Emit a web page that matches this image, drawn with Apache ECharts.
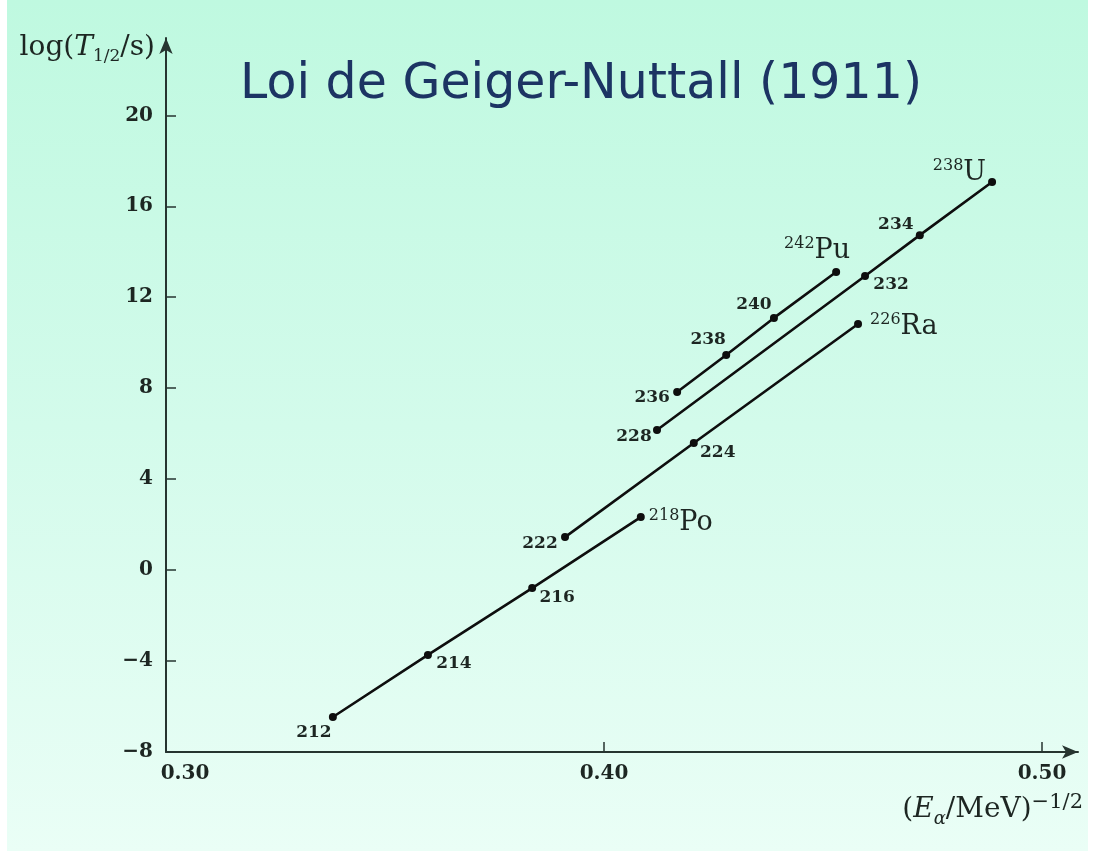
<!DOCTYPE html>
<html>
<head>
<meta charset="utf-8">
<title>Loi de Geiger-Nuttall (1911)</title>
<script src="https://cdn.jsdelivr.net/npm/echarts@6/dist/echarts.min.js"></script>
<style>
  html, body { margin: 0; padding: 0; background: #ffffff; }
  #chart { width: 1095px; height: 851px; }
</style>
</head>
<body>
<div id="chart"></div>
<script>
// Decay chains: x = (E_alpha / MeV)^(-1/2), y = log10(T_1/2 / s)
const poMass = [212, 214, 216, 218];
const poX = [0.3381, 0.3598, 0.3836, 0.4084];
const poY = [-6.46, -3.73, -0.79, 2.33];

const raMass = [222, 224, 226];
const raX = [0.3911, 0.4205, 0.4580];
const raY = [1.45, 5.59, 10.82];

const uMass = [228, 232, 234, 238];
const uX = [0.4121, 0.4596, 0.4721, 0.4886];
const uY = [6.16, 12.93, 14.73, 17.07];

const puMass = [236, 238, 240, 242];
const puX = [0.4167, 0.4279, 0.4388, 0.4530];
const puY = [7.83, 9.46, 11.09, 13.11];

const xTicks = [0.30, 0.40, 0.50];
const yTicks = [-8, -4, 0, 4, 8, 12, 16, 20];

const chains = [
  { element: 'Po', mass: poMass, x: poX, y: poY },
  { element: 'Ra', mass: raMass, x: raX, y: raY },
  { element: 'U',  mass: uMass,  x: uX,  y: uY  },
  { element: 'Pu', mass: puMass, x: puX, y: puY }
];

// Where each mass-number label sits relative to its dot (pixels)
const labelPlacement = {
  'Po-212': { dx: -19, dy: 16 },
  'Po-214': { dx: 26, dy: 9 },
  'Po-216': { dx: 25, dy: 10 },
  'Po-218': { dx: 8, dy: 6, align: 'left' },
  'Ra-222': { dx: -25, dy: 6 },
  'Ra-224': { dx: 24, dy: 10 },
  'Ra-226': { dx: 12, dy: 3, align: 'left' },
  'U-228':  { dx: -23, dy: 7 },
  'U-232':  { dx: 26, dy: 9 },
  'U-234':  { dx: -24, dy: -11 },
  'U-238':  { dx: -6, dy: -9, align: 'right' },
  'Pu-236': { dx: -25, dy: 6 },
  'Pu-238': { dx: -18, dy: -15 },
  'Pu-240': { dx: -20, dy: -13 },
  'Pu-242': { dx: 14, dy: -21, align: 'right' }
};

const ink = '#1d2622';
const axisInk = '#263530';
const serif = '"DejaVu Serif", "Liberation Serif", serif';

function buildSeries(chain) {
  const last = chain.mass.length - 1;
  const data = chain.mass.map(function (m, i) {
    const key = chain.element + '-' + m;
    const p = labelPlacement[key] || { dx: 0, dy: 0 };
    const isHead = i === last;
    return {
      value: [chain.x[i], chain.y[i]],
      label: {
        show: true,
        position: 'inside',
        offset: [p.dx, p.dy],
        align: p.align || 'center',
        verticalAlign: 'middle',
        formatter: isHead ? '{sup|' + m + '}{el|' + chain.element + '}' : String(m),
        fontFamily: serif,
        fontWeight: 'bold',
        fontSize: 17,
        color: ink,
        rich: {
          sup: { fontFamily: serif, fontWeight: 'normal', fontSize: 16, color: ink, verticalAlign: 'top', lineHeight: 16 },
          el: { fontFamily: serif, fontWeight: 'normal', fontSize: 27, color: ink, lineHeight: 31 }
        }
      }
    };
  });
  return {
    name: chain.element,
    type: 'line',
    data: data,
    symbol: 'circle',
    symbolSize: 8,
    showSymbol: true,
    itemStyle: { color: '#0e0e0e' },
    lineStyle: { color: '#0e0e0e', width: 2.6 },
    emphasis: { disabled: true },
    z: 3
  };
}

const chart = echarts.init(document.getElementById('chart'), null, { renderer: 'canvas' });

chart.setOption({
  animation: false,
  backgroundColor: '#ffffff',
  graphic: [{
    type: 'rect',
    z: -10,
    silent: true,
    shape: { x: 7, y: 0, width: 1081, height: 851 },
    style: {
      fill: new echarts.graphic.LinearGradient(0, 0, 0, 1, [
        { offset: 0, color: '#bff9e0' },
        { offset: 0.5, color: '#d3fbeb' },
        { offset: 1, color: '#eafef6' }
      ])
    }
  }],
  title: {
    text: 'Loi de Geiger-Nuttall (1911)',
    left: 235,
    top: 56,
    textStyle: {
      fontFamily: '"DejaVu Sans", Verdana, sans-serif',
      fontWeight: 'normal',
      fontSize: 49,
      color: '#1c3463'
    }
  },
  grid: { left: 166, right: 17, top: 38, bottom: 99, containLabel: false },
  xAxis: {
    type: 'value',
    min: 0.30,
    max: 0.50822,
    interval: 0.1,
    name: '{p|(}{it|E}{sub|α}{p|/MeV)}{sup|−1/2}',
    nameLocation: 'end',
    nameGap: 5,
    nameTextStyle: {
      align: 'right',
      verticalAlign: 'top',
      padding: [40, 0, 0, 0],
      rich: {
        p: { fontFamily: serif, fontSize: 28, color: ink, lineHeight: 36 },
        it: { fontFamily: serif, fontStyle: 'italic', fontSize: 28, color: ink, lineHeight: 36 },
        sub: { fontFamily: serif, fontStyle: 'italic', fontSize: 18, color: ink, verticalAlign: 'bottom', lineHeight: 22 },
        sup: { fontFamily: serif, fontSize: 21, color: ink, verticalAlign: 'top', lineHeight: 21 }
      }
    },
    axisLine: {
      show: true,
      onZero: false,
      symbol: ['none', 'arrow'],
      symbolSize: [10, 16],
      lineStyle: { color: axisInk, width: 2 }
    },
    axisTick: {
      show: true,
      inside: true,
      length: 10,
      customValues: xTicks,
      lineStyle: { color: axisInk, width: 1.5 }
    },
    axisLabel: {
      customValues: xTicks,
      margin: 12,
      formatter: function (v) {
        const s = v.toFixed(2);
        return v === xTicks[0] ? '{first|' + s + '}' : '{n|' + s + '}';
      },
      rich: {
        first: { fontFamily: serif, fontWeight: 'bold', fontSize: 20, color: ink, padding: [0, 0, 0, 38] },
        n: { fontFamily: serif, fontWeight: 'bold', fontSize: 20, color: ink }
      }
    },
    splitLine: { show: false }
  },
  yAxis: {
    type: 'value',
    min: -8,
    max: 23.4,
    interval: 4,
    name: '{p|log(}{it|T}{sub|1/2}{p|/s)}',
    nameLocation: 'end',
    nameGap: -10,
    nameTextStyle: {
      align: 'right',
      verticalAlign: 'middle',
      padding: [0, 11, 0, 0],
      rich: {
        p: { fontFamily: serif, fontSize: 28, color: ink, lineHeight: 34 },
        it: { fontFamily: serif, fontStyle: 'italic', fontSize: 28, color: ink, lineHeight: 34 },
        sub: { fontFamily: serif, fontSize: 17, color: ink, verticalAlign: 'bottom', lineHeight: 21 }
      }
    },
    axisLine: {
      show: true,
      onZero: false,
      symbol: ['none', 'arrow'],
      symbolSize: [10, 16],
      lineStyle: { color: axisInk, width: 2 }
    },
    axisTick: {
      show: true,
      inside: true,
      length: 10,
      customValues: yTicks,
      lineStyle: { color: axisInk, width: 1.5 }
    },
    axisLabel: {
      customValues: yTicks,
      margin: 13,
      fontFamily: serif,
      fontWeight: 'bold',
      fontSize: 20,
      color: ink,
      formatter: function (v) { return v < 0 ? '−' + Math.abs(v) : String(v); }
    },
    splitLine: { show: false }
  },
  series: chains.map(buildSeries)
});
</script>
</body>
</html>
